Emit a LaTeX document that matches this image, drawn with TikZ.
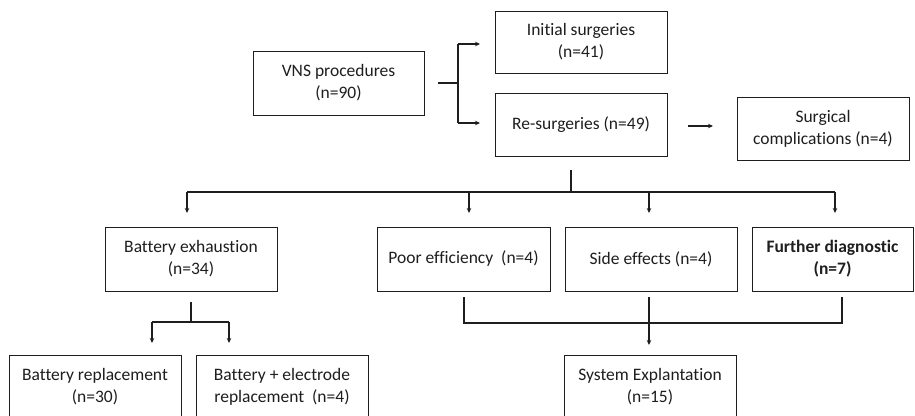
\documentclass[tikz,border=0pt]{standalone}
\usepackage{fontspec}
\setmainfont{Carlito}[Ligatures={NoCommon}]
\usetikzlibrary{arrows.meta}
\definecolor{ink}{RGB}{30,30,30}
\tikzset{
  box/.style={draw=ink, line width=1pt, text=ink, align=center, inner sep=0pt,
    font=\fontsize{17.5}{22}\selectfont},
  conn/.style={draw=ink, line width=1.3pt},
  arr/.style={conn, -{Stealth[length=5pt,width=4.5pt]}},
}
\begin{document}
\begin{tikzpicture}[x=1pt,y=-1pt]
\useasboundingbox (0,0) rectangle (915,415);
\clip (0,0) rectangle (915,415);
\fill[white] (0,0) rectangle (915,415);
% boxes
\node[box, minimum width=171pt, minimum height=64pt] (vns) at (338.5,83) {VNS procedures\\(n=90)};
\node[box, minimum width=172pt, minimum height=62pt] (init) at (581,42) {Initial surgeries\\(n=41)};
\node[box, minimum width=172pt, minimum height=63pt] (re) at (581,124.5) {Re-surgeries (n=49)};
\node[box, minimum width=172pt, minimum height=63pt] (comp) at (823,128.5) {Surgical\\complications (n=4)};
\node[box, minimum width=172pt, minimum height=64pt] (bex) at (191,259) {Battery exhaustion\\(n=34)};
\node[box, minimum width=173pt, minimum height=64pt] (poor) at (463.5,259) {Poor efficiency~~(n=4)};
\node[box, minimum width=172pt, minimum height=64pt] (side) at (651,259) {Side effects (n=4)};
\node[box, minimum width=161pt, minimum height=64pt, font=\fontsize{17.5}{22}\selectfont\bfseries] (fur) at (832.5,259) {Further diagnostic\\(n=7)};
\node[box, minimum width=172pt, minimum height=64pt] (brep) at (95,387) {Battery replacement\\(n=30)};
\node[box, minimum width=172pt, minimum height=64pt] (belec) at (282,387) {Battery + electrode\\replacement~~(n=4)};
\node[box, minimum width=172pt, minimum height=64pt] (sys) at (650,387) {System Explantation\\(n=15)};
% coordinates
\coordinate (v1) at (438,83);
\coordinate (v2) at (458,83);
\coordinate (vt) at (458,44);
\coordinate (vb) at (458,123);
\coordinate (it) at (480,44);
\coordinate (rt) at (480,123);
\coordinate (r1) at (688,126);
\coordinate (r2) at (713,126);
\coordinate (rd1) at (571,170);
\coordinate (rd2) at (571,192);
\coordinate (hL) at (187,192);
\coordinate (hP) at (469,192);
\coordinate (hS) at (649,192);
\coordinate (hR) at (835,192);
\coordinate (aL) at (187,213);
\coordinate (aP) at (469,213);
\coordinate (aS) at (649,213);
\coordinate (aR) at (835,213);
\coordinate (bx1) at (191,302);
\coordinate (bx2) at (191,322);
\coordinate (bxL) at (152,322);
\coordinate (bxR) at (229,322);
\coordinate (bxLa) at (152,343);
\coordinate (bxRa) at (229,343);
\coordinate (p1) at (464,297);
\coordinate (p2) at (464,323);
\coordinate (f1) at (842,297);
\coordinate (f2) at (842,323);
\coordinate (s1) at (649,297);
\coordinate (s2) at (649,345);
% connectors
\draw[conn] (v1) -- (v2);
\draw[conn] (vt) -- (vb);
\draw[arr] (vt) -- (it);
\draw[arr] (vb) -- (rt);
\draw[arr] (r1) -- (r2);
\draw[conn] (rd1) -- (rd2);
\draw[conn] (hL) -- (hR);
\draw[arr] (hL) -- (aL);
\draw[arr] (hP) -- (aP);
\draw[arr] (hS) -- (aS);
\draw[arr] (hR) -- (aR);
\draw[conn] (bx1) -- (bx2);
\draw[conn] (bxL) -- (bxR);
\draw[arr] (bxL) -- (bxLa);
\draw[arr] (bxR) -- (bxRa);
\draw[conn] (p1) -- (p2) -- (f2) -- (f1);
\draw[arr] (s1) -- (s2);
\end{tikzpicture}
\end{document}
